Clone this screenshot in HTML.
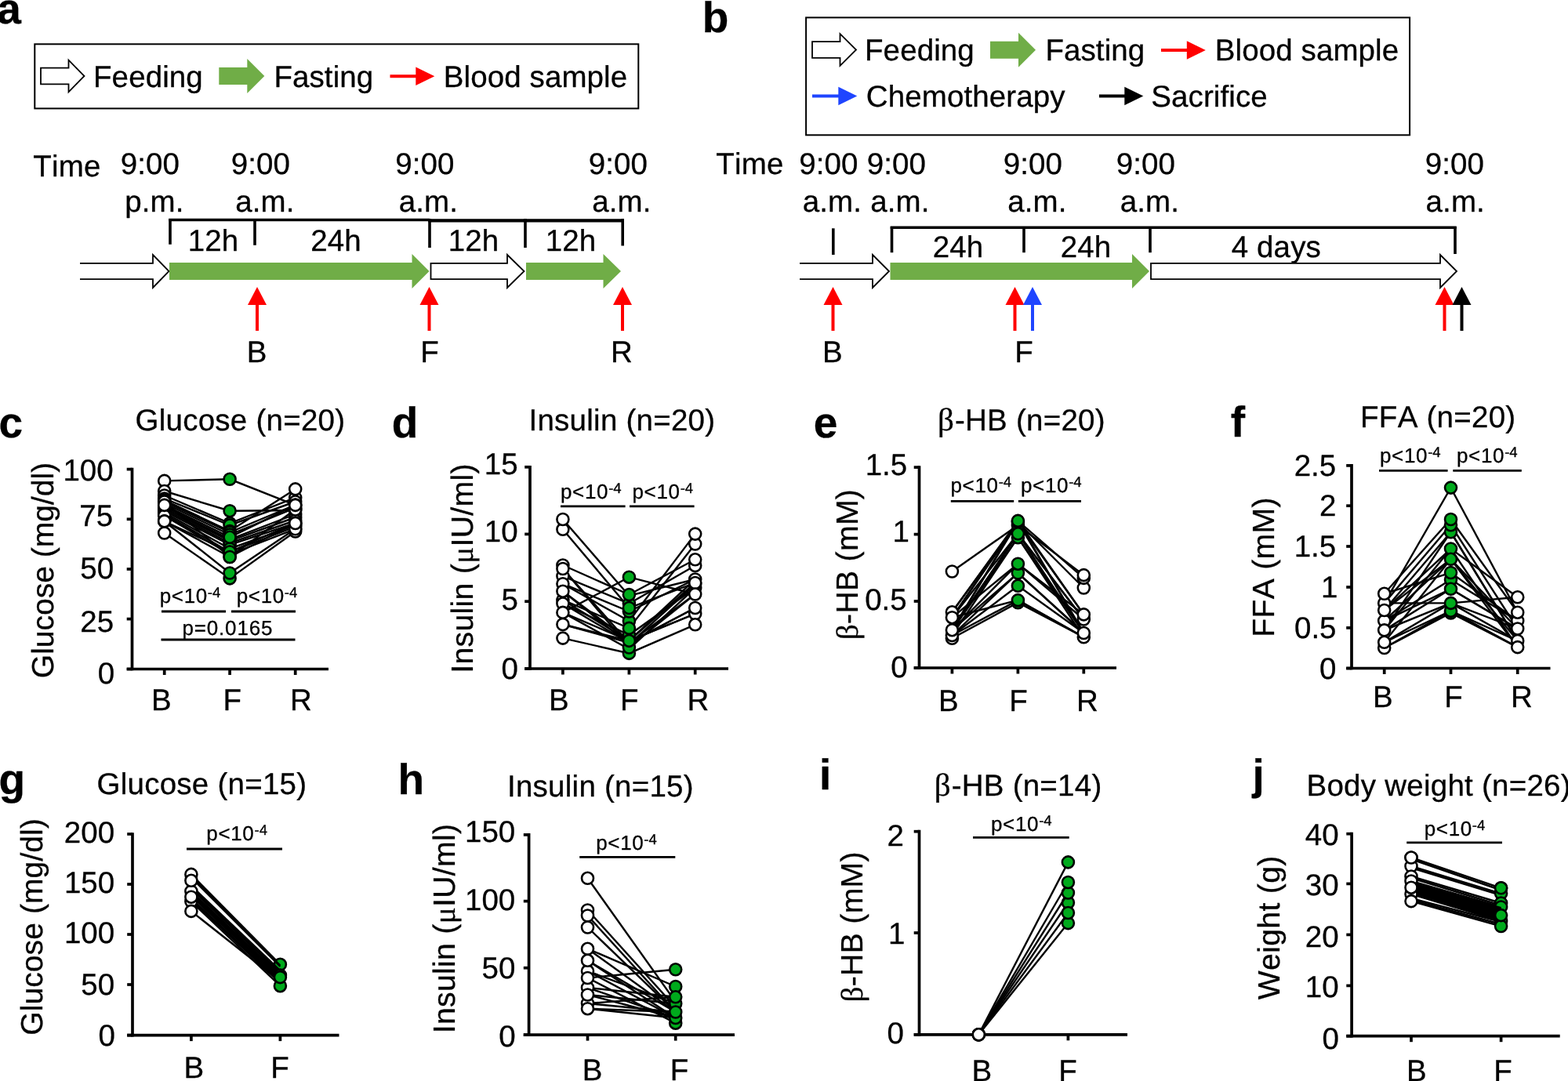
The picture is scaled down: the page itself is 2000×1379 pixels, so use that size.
<!DOCTYPE html>
<html lang="en">
<head>
<meta charset="utf-8">
<title>Figure</title>
<style>
html,body{margin:0;padding:0;background:#fff;}
body{width:2000px;height:1379px;overflow:hidden;}
svg{display:block;}
svg text{font-family:"Liberation Sans",Arial,Helvetica,sans-serif;fill:#000;stroke:#000;stroke-width:0.3px;stroke-linejoin:round;font-kerning:none;text-rendering:geometricPrecision;}
</style>
</head>
<body>
<svg width="2000" height="1379" viewBox="0 0 2000 1379">
<rect x="0" y="0" width="2000" height="1379" fill="#fff"/>
<text x="-3.80" y="29.50" font-size="55" font-weight="700">a</text>
<text x="895.80" y="41.00" font-size="55" font-weight="700">b</text>
<text x="-1.50" y="558.00" font-size="55" font-weight="700">c</text>
<text x="499.70" y="558.00" font-size="55" font-weight="700">d</text>
<text x="1037.70" y="558.00" font-size="55" font-weight="700">e</text>
<text x="1569.70" y="557.00" font-size="55" font-weight="700">f</text>
<text x="-1.50" y="1012.50" font-size="55" font-weight="700">g</text>
<text x="507.40" y="1013.30" font-size="55" font-weight="700">h</text>
<text x="1044.90" y="1007.00" font-size="55" font-weight="700">i</text>
<text x="1597.50" y="1007.00" font-size="55" font-weight="700">j</text>
<rect x="44.3" y="56.3" width="770" height="82.1" fill="none" stroke="#000" stroke-width="2.0"/>
<polygon points="52.00,86.70 87.50,86.70 87.50,76.70 107.50,97.00 87.50,117.30 87.50,107.30 52.00,107.30" fill="#fff" stroke="#000" stroke-width="1.8" stroke-linejoin="miter"/>
<text x="119.00" y="111.00" font-size="38.5" letter-spacing="0.1">Feeding</text>
<polygon points="279.30,86.00 315.30,86.00 315.30,75.00 337.30,97.00 315.30,119.00 315.30,108.00 279.30,108.00" fill="#70AD47" stroke="none" stroke-width="0" stroke-linejoin="miter"/>
<text x="349.40" y="111.00" font-size="38.5" letter-spacing="0.1">Fasting</text>
<line x1="497.50" y1="97.30" x2="531.30" y2="97.30" stroke="#FF0000" stroke-width="4.0" stroke-linecap="butt"/>
<polygon points="530.30,85.50 554.30,97.30 530.30,109.10" fill="#FF0000" stroke="none" stroke-width="0" stroke-linejoin="miter"/>
<text x="565.80" y="111.00" font-size="38.5" letter-spacing="0.1">Blood sample</text>
<rect x="1028.1" y="22.4" width="770" height="149.9" fill="none" stroke="#000" stroke-width="2.0"/>
<polygon points="1036.00,53.20 1071.50,53.20 1071.50,43.20 1092.00,63.50 1071.50,83.80 1071.50,73.80 1036.00,73.80" fill="#fff" stroke="#000" stroke-width="1.8" stroke-linejoin="miter"/>
<text x="1103.00" y="77.30" font-size="38.5" letter-spacing="0.1">Feeding</text>
<polygon points="1263.00,52.70 1299.00,52.70 1299.00,41.70 1321.00,63.70 1299.00,85.70 1299.00,74.70 1263.00,74.70" fill="#70AD47" stroke="none" stroke-width="0" stroke-linejoin="miter"/>
<text x="1333.40" y="77.30" font-size="38.5" letter-spacing="0.1">Fasting</text>
<line x1="1481.00" y1="64.00" x2="1514.80" y2="64.00" stroke="#FF0000" stroke-width="4.0" stroke-linecap="butt"/>
<polygon points="1513.80,52.20 1537.80,64.00 1513.80,75.80" fill="#FF0000" stroke="none" stroke-width="0" stroke-linejoin="miter"/>
<text x="1549.80" y="77.30" font-size="38.5" letter-spacing="0.1">Blood sample</text>
<line x1="1036.00" y1="122.50" x2="1070.30" y2="122.50" stroke="#1F45FF" stroke-width="4.0" stroke-linecap="butt"/>
<polygon points="1069.30,110.70 1093.30,122.50 1069.30,134.30" fill="#1F45FF" stroke="none" stroke-width="0" stroke-linejoin="miter"/>
<text x="1104.80" y="135.80" font-size="38.5" letter-spacing="0.1">Chemotherapy</text>
<line x1="1402.00" y1="122.50" x2="1435.30" y2="122.50" stroke="#000" stroke-width="4.0" stroke-linecap="butt"/>
<polygon points="1434.30,110.70 1458.30,122.50 1434.30,134.30" fill="#000" stroke="none" stroke-width="0" stroke-linejoin="miter"/>
<text x="1468.30" y="135.80" font-size="38.5" letter-spacing="0.1">Sacrifice</text>
<text x="42.30" y="225.40" font-size="38.5" letter-spacing="0.2">Time</text>
<text x="153.70" y="222.00" font-size="38.5" letter-spacing="0.1">9:00</text>
<text x="159.30" y="270.00" font-size="38.5" letter-spacing="0.1">p.m.</text>
<text x="294.70" y="222.00" font-size="38.5" letter-spacing="0.1">9:00</text>
<text x="300.30" y="270.00" font-size="38.5" letter-spacing="0.1">a.m.</text>
<text x="504.20" y="222.00" font-size="38.5" letter-spacing="0.1">9:00</text>
<text x="508.80" y="270.00" font-size="38.5" letter-spacing="0.1">a.m.</text>
<text x="750.70" y="222.00" font-size="38.5" letter-spacing="0.1">9:00</text>
<text x="755.30" y="270.00" font-size="38.5" letter-spacing="0.1">a.m.</text>
<line x1="215.30" y1="280.50" x2="548.00" y2="280.50" stroke="#000" stroke-width="3.6" stroke-linecap="butt"/>
<line x1="546.20" y1="281.30" x2="796.00" y2="281.30" stroke="#000" stroke-width="4.3" stroke-linecap="butt"/>
<line x1="217.00" y1="279.00" x2="217.00" y2="311.80" stroke="#000" stroke-width="3.6" stroke-linecap="butt"/>
<line x1="325.00" y1="279.00" x2="325.00" y2="312.80" stroke="#000" stroke-width="3.6" stroke-linecap="butt"/>
<line x1="548.00" y1="279.00" x2="548.00" y2="316.00" stroke="#000" stroke-width="3.6" stroke-linecap="butt"/>
<line x1="670.00" y1="279.00" x2="670.00" y2="316.00" stroke="#000" stroke-width="3.6" stroke-linecap="butt"/>
<line x1="794.20" y1="279.00" x2="794.20" y2="313.50" stroke="#000" stroke-width="3.6" stroke-linecap="butt"/>
<text x="239.80" y="320.00" font-size="38.5" letter-spacing="0.1">12h</text>
<text x="396.30" y="320.00" font-size="38.5" letter-spacing="0.1">24h</text>
<text x="571.80" y="320.00" font-size="38.5" letter-spacing="0.1">12h</text>
<text x="695.80" y="320.00" font-size="38.5" letter-spacing="0.1">12h</text>
<polyline points="102.00,335.80 195.00,335.80 195.00,325.00 215.50,346.00 195.00,367.00 195.00,356.20 102.00,356.20" fill="#fff" stroke="#000" stroke-width="1.8" stroke-linejoin="miter"/>
<polygon points="216.00,335.00 525.50,335.00 525.50,324.00 547.50,346.00 525.50,368.00 525.50,357.00 216.00,357.00" fill="#70AD47" stroke="none" stroke-width="0" stroke-linejoin="miter"/>
<polygon points="549.50,335.80 647.00,335.80 647.00,325.00 668.50,346.00 647.00,367.00 647.00,356.20 549.50,356.20" fill="#fff" stroke="#000" stroke-width="1.8" stroke-linejoin="miter"/>
<polygon points="671.00,335.00 769.50,335.00 769.50,324.00 792.00,346.00 769.50,368.00 769.50,357.00 671.00,357.00" fill="#70AD47" stroke="none" stroke-width="0" stroke-linejoin="miter"/>
<line x1="328.00" y1="388.00" x2="328.00" y2="422.00" stroke="#FF0000" stroke-width="4.0" stroke-linecap="butt"/>
<polygon points="316.00,389.00 328.00,366.00 340.00,389.00" fill="#FF0000" stroke="none" stroke-width="0" stroke-linejoin="miter"/>
<line x1="547.50" y1="388.00" x2="547.50" y2="422.00" stroke="#FF0000" stroke-width="4.0" stroke-linecap="butt"/>
<polygon points="535.50,389.00 547.50,366.00 559.50,389.00" fill="#FF0000" stroke="none" stroke-width="0" stroke-linejoin="miter"/>
<line x1="794.00" y1="388.00" x2="794.00" y2="422.00" stroke="#FF0000" stroke-width="4.0" stroke-linecap="butt"/>
<polygon points="782.00,389.00 794.00,366.00 806.00,389.00" fill="#FF0000" stroke="none" stroke-width="0" stroke-linejoin="miter"/>
<text x="314.82" y="461.50" font-size="38.5">B</text>
<text x="536.25" y="461.50" font-size="38.5">F</text>
<text x="779.12" y="461.50" font-size="38.5">R</text>
<text x="913.30" y="222.00" font-size="38.5" letter-spacing="0.2">Time</text>
<text x="1019.20" y="222.00" font-size="38.5" letter-spacing="0.1">9:00</text>
<text x="1023.80" y="270.00" font-size="38.5" letter-spacing="0.1">a.m.</text>
<text x="1105.70" y="222.00" font-size="38.5" letter-spacing="0.1">9:00</text>
<text x="1110.30" y="270.00" font-size="38.5" letter-spacing="0.1">a.m.</text>
<text x="1279.70" y="222.00" font-size="38.5" letter-spacing="0.1">9:00</text>
<text x="1285.30" y="270.00" font-size="38.5" letter-spacing="0.1">a.m.</text>
<text x="1423.70" y="222.00" font-size="38.5" letter-spacing="0.1">9:00</text>
<text x="1428.80" y="270.00" font-size="38.5" letter-spacing="0.1">a.m.</text>
<text x="1817.70" y="222.00" font-size="38.5" letter-spacing="0.1">9:00</text>
<text x="1818.60" y="270.00" font-size="38.5" letter-spacing="0.1">a.m.</text>
<line x1="1062.80" y1="291.30" x2="1062.80" y2="325.00" stroke="#000" stroke-width="3.6" stroke-linecap="butt"/>
<line x1="1135.70" y1="290.30" x2="1857.70" y2="290.30" stroke="#000" stroke-width="3.6" stroke-linecap="butt"/>
<line x1="1137.50" y1="289.00" x2="1137.50" y2="322.20" stroke="#000" stroke-width="3.6" stroke-linecap="butt"/>
<line x1="1306.00" y1="289.00" x2="1306.00" y2="322.20" stroke="#000" stroke-width="3.6" stroke-linecap="butt"/>
<line x1="1467.00" y1="289.00" x2="1467.00" y2="322.20" stroke="#000" stroke-width="3.6" stroke-linecap="butt"/>
<line x1="1856.00" y1="289.00" x2="1856.00" y2="324.00" stroke="#000" stroke-width="3.6" stroke-linecap="butt"/>
<text x="1189.80" y="327.50" font-size="38.5" letter-spacing="0.1">24h</text>
<text x="1352.80" y="327.50" font-size="38.5" letter-spacing="0.1">24h</text>
<text x="1570.80" y="327.50" font-size="38.5" letter-spacing="0.1">4 days</text>
<polyline points="1020.00,335.80 1113.00,335.80 1113.00,325.00 1134.00,346.00 1113.00,367.00 1113.00,356.20 1020.00,356.20" fill="#fff" stroke="#000" stroke-width="1.8" stroke-linejoin="miter"/>
<polygon points="1135.50,335.00 1444.00,335.00 1444.00,324.00 1466.00,346.00 1444.00,368.00 1444.00,357.00 1135.50,357.00" fill="#70AD47" stroke="none" stroke-width="0" stroke-linejoin="miter"/>
<polygon points="1468.00,335.80 1837.00,335.80 1837.00,325.00 1858.00,346.00 1837.00,367.00 1837.00,356.20 1468.00,356.20" fill="#fff" stroke="#000" stroke-width="1.8" stroke-linejoin="miter"/>
<line x1="1062.50" y1="388.00" x2="1062.50" y2="422.00" stroke="#FF0000" stroke-width="4.0" stroke-linecap="butt"/>
<polygon points="1050.50,389.00 1062.50,366.00 1074.50,389.00" fill="#FF0000" stroke="none" stroke-width="0" stroke-linejoin="miter"/>
<line x1="1294.50" y1="388.00" x2="1294.50" y2="422.00" stroke="#FF0000" stroke-width="4.0" stroke-linecap="butt"/>
<polygon points="1282.50,389.00 1294.50,366.00 1306.50,389.00" fill="#FF0000" stroke="none" stroke-width="0" stroke-linejoin="miter"/>
<line x1="1317.00" y1="388.00" x2="1317.00" y2="422.00" stroke="#1F45FF" stroke-width="4.0" stroke-linecap="butt"/>
<polygon points="1305.00,389.00 1317.00,366.00 1329.00,389.00" fill="#1F45FF" stroke="none" stroke-width="0" stroke-linejoin="miter"/>
<line x1="1842.50" y1="388.00" x2="1842.50" y2="422.00" stroke="#FF0000" stroke-width="4.0" stroke-linecap="butt"/>
<polygon points="1830.50,389.00 1842.50,366.00 1854.50,389.00" fill="#FF0000" stroke="none" stroke-width="0" stroke-linejoin="miter"/>
<line x1="1864.50" y1="388.00" x2="1864.50" y2="422.00" stroke="#000" stroke-width="4.0" stroke-linecap="butt"/>
<polygon points="1852.50,389.00 1864.50,366.00 1876.50,389.00" fill="#000" stroke="none" stroke-width="0" stroke-linejoin="miter"/>
<text x="1049.12" y="461.50" font-size="38.5">B</text>
<text x="1294.25" y="461.50" font-size="38.5">F</text>
<text x="172.50" y="548.90" font-size="38.5" letter-spacing="0.25">Glucose (n=20)</text>
<text transform="translate(68.00,727.50) rotate(-90)" text-anchor="middle" font-size="39" letter-spacing="0">Glucose (mg/dl)</text>
<line x1="168.50" y1="596.75" x2="168.50" y2="855.35" stroke="#000" stroke-width="3.7" stroke-linecap="butt"/>
<line x1="161.70" y1="853.50" x2="419.00" y2="853.50" stroke="#000" stroke-width="3.7" stroke-linecap="butt"/>
<line x1="161.70" y1="598.60" x2="168.50" y2="598.60" stroke="#000" stroke-width="3.7" stroke-linecap="butt"/>
<text x="80.45" y="612.60" font-size="38.5">100</text>
<line x1="161.70" y1="662.30" x2="168.50" y2="662.30" stroke="#000" stroke-width="3.7" stroke-linecap="butt"/>
<text x="101.35" y="671.30" font-size="38.5">75</text>
<line x1="161.70" y1="726.00" x2="168.50" y2="726.00" stroke="#000" stroke-width="3.7" stroke-linecap="butt"/>
<text x="102.35" y="738.40" font-size="38.5">50</text>
<line x1="161.70" y1="789.60" x2="168.50" y2="789.60" stroke="#000" stroke-width="3.7" stroke-linecap="butt"/>
<text x="102.35" y="805.60" font-size="38.5">25</text>
<line x1="161.70" y1="853.50" x2="168.50" y2="853.50" stroke="#000" stroke-width="3.7" stroke-linecap="butt"/>
<text x="124.80" y="872.00" font-size="38.5">0</text>
<line x1="209.70" y1="853.50" x2="209.70" y2="861.00" stroke="#000" stroke-width="3.7" stroke-linecap="butt"/>
<line x1="293.10" y1="853.50" x2="293.10" y2="861.00" stroke="#000" stroke-width="3.7" stroke-linecap="butt"/>
<line x1="376.70" y1="853.50" x2="376.70" y2="861.00" stroke="#000" stroke-width="3.7" stroke-linecap="butt"/>
<text x="193.12" y="905.80" font-size="38.5">B</text>
<text x="284.55" y="905.80" font-size="38.5">F</text>
<text x="370.12" y="905.80" font-size="38.5">R</text>
<polyline points="209.7,613.4 293.1,611.3 376.7,644.4" fill="none" stroke="#000" stroke-width="2.4"/>
<circle cx="209.7" cy="613.4" r="7.5" fill="#fff" stroke="#000" stroke-width="2.6"/>
<circle cx="293.1" cy="611.3" r="7.5" fill="#00AA1C" stroke="#000" stroke-width="2.6"/>
<circle cx="376.7" cy="644.4" r="7.5" fill="#fff" stroke="#000" stroke-width="2.6"/>
<polyline points="209.7,626.5 293.1,651.7 376.7,651.0" fill="none" stroke="#000" stroke-width="2.4"/>
<circle cx="209.7" cy="626.5" r="7.5" fill="#fff" stroke="#000" stroke-width="2.6"/>
<circle cx="293.1" cy="651.7" r="7.5" fill="#00AA1C" stroke="#000" stroke-width="2.6"/>
<circle cx="376.7" cy="651.0" r="7.5" fill="#fff" stroke="#000" stroke-width="2.6"/>
<polyline points="209.7,632.0 293.1,667.5 376.7,634.9" fill="none" stroke="#000" stroke-width="2.4"/>
<circle cx="209.7" cy="632.0" r="7.5" fill="#fff" stroke="#000" stroke-width="2.6"/>
<circle cx="293.1" cy="667.5" r="7.5" fill="#00AA1C" stroke="#000" stroke-width="2.6"/>
<circle cx="376.7" cy="634.9" r="7.5" fill="#fff" stroke="#000" stroke-width="2.6"/>
<polyline points="209.7,636.0 293.1,670.0 376.7,640.0" fill="none" stroke="#000" stroke-width="2.4"/>
<circle cx="209.7" cy="636.0" r="7.5" fill="#fff" stroke="#000" stroke-width="2.6"/>
<circle cx="293.1" cy="670.0" r="7.5" fill="#00AA1C" stroke="#000" stroke-width="2.6"/>
<circle cx="376.7" cy="640.0" r="7.5" fill="#fff" stroke="#000" stroke-width="2.6"/>
<polyline points="209.7,638.0 293.1,677.5 376.7,623.9" fill="none" stroke="#000" stroke-width="2.4"/>
<circle cx="209.7" cy="638.0" r="7.5" fill="#fff" stroke="#000" stroke-width="2.6"/>
<circle cx="293.1" cy="677.5" r="7.5" fill="#00AA1C" stroke="#000" stroke-width="2.6"/>
<circle cx="376.7" cy="623.9" r="7.5" fill="#fff" stroke="#000" stroke-width="2.6"/>
<polyline points="209.7,640.0 293.1,679.0 376.7,644.0" fill="none" stroke="#000" stroke-width="2.4"/>
<circle cx="209.7" cy="640.0" r="7.5" fill="#fff" stroke="#000" stroke-width="2.6"/>
<circle cx="293.1" cy="679.0" r="7.5" fill="#00AA1C" stroke="#000" stroke-width="2.6"/>
<circle cx="376.7" cy="644.0" r="7.5" fill="#fff" stroke="#000" stroke-width="2.6"/>
<polyline points="209.7,642.0 293.1,682.0 376.7,648.0" fill="none" stroke="#000" stroke-width="2.4"/>
<circle cx="209.7" cy="642.0" r="7.5" fill="#fff" stroke="#000" stroke-width="2.6"/>
<circle cx="293.1" cy="682.0" r="7.5" fill="#00AA1C" stroke="#000" stroke-width="2.6"/>
<circle cx="376.7" cy="648.0" r="7.5" fill="#fff" stroke="#000" stroke-width="2.6"/>
<polyline points="209.7,646.0 293.1,688.0 376.7,656.0" fill="none" stroke="#000" stroke-width="2.4"/>
<circle cx="209.7" cy="646.0" r="7.5" fill="#fff" stroke="#000" stroke-width="2.6"/>
<circle cx="293.1" cy="688.0" r="7.5" fill="#00AA1C" stroke="#000" stroke-width="2.6"/>
<circle cx="376.7" cy="656.0" r="7.5" fill="#fff" stroke="#000" stroke-width="2.6"/>
<polyline points="209.7,648.0 293.1,690.0 376.7,660.0" fill="none" stroke="#000" stroke-width="2.4"/>
<circle cx="209.7" cy="648.0" r="7.5" fill="#fff" stroke="#000" stroke-width="2.6"/>
<circle cx="293.1" cy="690.0" r="7.5" fill="#00AA1C" stroke="#000" stroke-width="2.6"/>
<circle cx="376.7" cy="660.0" r="7.5" fill="#fff" stroke="#000" stroke-width="2.6"/>
<polyline points="209.7,650.0 293.1,692.7 376.7,664.0" fill="none" stroke="#000" stroke-width="2.4"/>
<circle cx="209.7" cy="650.0" r="7.5" fill="#fff" stroke="#000" stroke-width="2.6"/>
<circle cx="293.1" cy="692.7" r="7.5" fill="#00AA1C" stroke="#000" stroke-width="2.6"/>
<circle cx="376.7" cy="664.0" r="7.5" fill="#fff" stroke="#000" stroke-width="2.6"/>
<polyline points="209.7,652.0 293.1,695.0 376.7,667.5" fill="none" stroke="#000" stroke-width="2.4"/>
<circle cx="209.7" cy="652.0" r="7.5" fill="#fff" stroke="#000" stroke-width="2.6"/>
<circle cx="293.1" cy="695.0" r="7.5" fill="#00AA1C" stroke="#000" stroke-width="2.6"/>
<circle cx="376.7" cy="667.5" r="7.5" fill="#fff" stroke="#000" stroke-width="2.6"/>
<polyline points="209.7,654.0 293.1,700.0 376.7,670.0" fill="none" stroke="#000" stroke-width="2.4"/>
<circle cx="209.7" cy="654.0" r="7.5" fill="#fff" stroke="#000" stroke-width="2.6"/>
<circle cx="293.1" cy="700.0" r="7.5" fill="#00AA1C" stroke="#000" stroke-width="2.6"/>
<circle cx="376.7" cy="670.0" r="7.5" fill="#fff" stroke="#000" stroke-width="2.6"/>
<polyline points="209.7,656.0 293.1,704.2 376.7,672.0" fill="none" stroke="#000" stroke-width="2.4"/>
<circle cx="209.7" cy="656.0" r="7.5" fill="#fff" stroke="#000" stroke-width="2.6"/>
<circle cx="293.1" cy="704.2" r="7.5" fill="#00AA1C" stroke="#000" stroke-width="2.6"/>
<circle cx="376.7" cy="672.0" r="7.5" fill="#fff" stroke="#000" stroke-width="2.6"/>
<polyline points="209.7,658.0 293.1,707.0 376.7,674.8" fill="none" stroke="#000" stroke-width="2.4"/>
<circle cx="209.7" cy="658.0" r="7.5" fill="#fff" stroke="#000" stroke-width="2.6"/>
<circle cx="293.1" cy="707.0" r="7.5" fill="#00AA1C" stroke="#000" stroke-width="2.6"/>
<circle cx="376.7" cy="674.8" r="7.5" fill="#fff" stroke="#000" stroke-width="2.6"/>
<polyline points="209.7,640.0 293.1,710.5 376.7,650.0" fill="none" stroke="#000" stroke-width="2.4"/>
<circle cx="209.7" cy="640.0" r="7.5" fill="#fff" stroke="#000" stroke-width="2.6"/>
<circle cx="293.1" cy="710.5" r="7.5" fill="#00AA1C" stroke="#000" stroke-width="2.6"/>
<circle cx="376.7" cy="650.0" r="7.5" fill="#fff" stroke="#000" stroke-width="2.6"/>
<polyline points="209.7,665.0 293.1,704.0 376.7,667.0" fill="none" stroke="#000" stroke-width="2.4"/>
<circle cx="209.7" cy="665.0" r="7.5" fill="#fff" stroke="#000" stroke-width="2.6"/>
<circle cx="293.1" cy="704.0" r="7.5" fill="#00AA1C" stroke="#000" stroke-width="2.6"/>
<circle cx="376.7" cy="667.0" r="7.5" fill="#fff" stroke="#000" stroke-width="2.6"/>
<polyline points="209.7,680.0 293.1,737.9 376.7,678.0" fill="none" stroke="#000" stroke-width="2.4"/>
<circle cx="209.7" cy="680.0" r="7.5" fill="#fff" stroke="#000" stroke-width="2.6"/>
<circle cx="293.1" cy="737.9" r="7.5" fill="#00AA1C" stroke="#000" stroke-width="2.6"/>
<circle cx="376.7" cy="678.0" r="7.5" fill="#fff" stroke="#000" stroke-width="2.6"/>
<polyline points="209.7,665.0 293.1,731.0 376.7,674.8" fill="none" stroke="#000" stroke-width="2.4"/>
<circle cx="209.7" cy="665.0" r="7.5" fill="#fff" stroke="#000" stroke-width="2.6"/>
<circle cx="293.1" cy="731.0" r="7.5" fill="#00AA1C" stroke="#000" stroke-width="2.6"/>
<circle cx="376.7" cy="674.8" r="7.5" fill="#fff" stroke="#000" stroke-width="2.6"/>
<polyline points="209.7,664.9 293.1,710.5 376.7,667.5" fill="none" stroke="#000" stroke-width="2.4"/>
<circle cx="209.7" cy="664.9" r="7.5" fill="#fff" stroke="#000" stroke-width="2.6"/>
<circle cx="293.1" cy="710.5" r="7.5" fill="#00AA1C" stroke="#000" stroke-width="2.6"/>
<circle cx="376.7" cy="667.5" r="7.5" fill="#fff" stroke="#000" stroke-width="2.6"/>
<polyline points="209.7,644.4 293.1,685.3 376.7,644.4" fill="none" stroke="#000" stroke-width="2.4"/>
<circle cx="209.7" cy="644.4" r="7.5" fill="#fff" stroke="#000" stroke-width="2.6"/>
<circle cx="293.1" cy="685.3" r="7.5" fill="#00AA1C" stroke="#000" stroke-width="2.6"/>
<circle cx="376.7" cy="644.4" r="7.5" fill="#fff" stroke="#000" stroke-width="2.6"/>
<text x="203.70" y="769.00" font-size="26" letter-spacing="0.65">p&lt;10<tspan font-size="18.6" dy="-6.9" letter-spacing="0">-4</tspan></text>
<text x="301.70" y="769.00" font-size="26" letter-spacing="0.65">p&lt;10<tspan font-size="18.6" dy="-6.9" letter-spacing="0">-4</tspan></text>
<text x="232.40" y="809.50" font-size="26" letter-spacing="0.85">p=0.0165</text>
<line x1="206.00" y1="780.00" x2="288.00" y2="780.00" stroke="#000" stroke-width="2.8" stroke-linecap="butt"/>
<line x1="295.00" y1="780.00" x2="377.00" y2="780.00" stroke="#000" stroke-width="2.8" stroke-linecap="butt"/>
<line x1="205.50" y1="816.00" x2="376.50" y2="816.00" stroke="#000" stroke-width="2.8" stroke-linecap="butt"/>
<text x="674.50" y="548.90" font-size="38.5" letter-spacing="0.25">Insulin (n=20)</text>
<text transform="translate(603.00,725.00) rotate(-90)" text-anchor="middle" font-size="39.2" letter-spacing="0.3">Insulin (<tspan font-family="'Liberation Serif',serif">μ</tspan>IU/ml)</text>
<line x1="676.00" y1="593.95" x2="676.00" y2="854.85" stroke="#000" stroke-width="3.7" stroke-linecap="butt"/>
<line x1="669.20" y1="853.00" x2="929.00" y2="853.00" stroke="#000" stroke-width="3.7" stroke-linecap="butt"/>
<line x1="669.20" y1="595.80" x2="676.00" y2="595.80" stroke="#000" stroke-width="3.7" stroke-linecap="butt"/>
<text x="617.85" y="604.60" font-size="38.5">15</text>
<line x1="669.20" y1="681.40" x2="676.00" y2="681.40" stroke="#000" stroke-width="3.7" stroke-linecap="butt"/>
<text x="617.85" y="691.00" font-size="38.5">10</text>
<line x1="669.20" y1="767.20" x2="676.00" y2="767.20" stroke="#000" stroke-width="3.7" stroke-linecap="butt"/>
<text x="639.40" y="778.40" font-size="38.5">5</text>
<line x1="669.20" y1="853.00" x2="676.00" y2="853.00" stroke="#000" stroke-width="3.7" stroke-linecap="butt"/>
<text x="639.40" y="865.80" font-size="38.5">0</text>
<line x1="717.90" y1="853.00" x2="717.90" y2="860.50" stroke="#000" stroke-width="3.7" stroke-linecap="butt"/>
<line x1="802.40" y1="853.00" x2="802.40" y2="860.50" stroke="#000" stroke-width="3.7" stroke-linecap="butt"/>
<line x1="886.70" y1="853.00" x2="886.70" y2="860.50" stroke="#000" stroke-width="3.7" stroke-linecap="butt"/>
<text x="699.92" y="905.80" font-size="38.5">B</text>
<text x="790.95" y="905.80" font-size="38.5">F</text>
<text x="876.62" y="905.80" font-size="38.5">R</text>
<polyline points="717.9,721.0 802.4,758.5 886.7,713.8" fill="none" stroke="#000" stroke-width="2.4"/>
<polyline points="717.9,735.0 802.4,770.0 886.7,721.5" fill="none" stroke="#000" stroke-width="2.4"/>
<polyline points="717.9,744.7 802.4,780.0 886.7,739.0" fill="none" stroke="#000" stroke-width="2.4"/>
<polyline points="717.9,744.7 802.4,792.3 886.7,681.1" fill="none" stroke="#000" stroke-width="2.4"/>
<polyline points="717.9,765.4 802.4,801.4 886.7,694.0" fill="none" stroke="#000" stroke-width="2.4"/>
<polyline points="717.9,765.4 802.4,817.4 886.7,743.5" fill="none" stroke="#000" stroke-width="2.4"/>
<polyline points="717.9,770.0 802.4,810.0 886.7,750.0" fill="none" stroke="#000" stroke-width="2.4"/>
<polyline points="717.9,770.0 802.4,820.0 886.7,758.0" fill="none" stroke="#000" stroke-width="2.4"/>
<polyline points="717.9,754.2 802.4,817.4 886.7,739.0" fill="none" stroke="#000" stroke-width="2.4"/>
<polyline points="717.9,754.2 802.4,822.0 886.7,745.0" fill="none" stroke="#000" stroke-width="2.4"/>
<polyline points="717.9,725.5 802.4,825.0 886.7,758.0" fill="none" stroke="#000" stroke-width="2.4"/>
<polyline points="717.9,725.5 802.4,820.0 886.7,775.5" fill="none" stroke="#000" stroke-width="2.4"/>
<polyline points="717.9,781.4 802.4,817.4 886.7,783.0" fill="none" stroke="#000" stroke-width="2.4"/>
<polyline points="717.9,781.4 802.4,828.0 886.7,750.0" fill="none" stroke="#000" stroke-width="2.4"/>
<polyline points="717.9,781.4 802.4,736.2 886.7,758.0" fill="none" stroke="#000" stroke-width="2.4"/>
<polyline points="717.9,796.5 802.4,820.0 886.7,775.5" fill="none" stroke="#000" stroke-width="2.4"/>
<polyline points="717.9,796.5 802.4,817.4 886.7,783.0" fill="none" stroke="#000" stroke-width="2.4"/>
<polyline points="717.9,814.1 802.4,833.4 886.7,796.8" fill="none" stroke="#000" stroke-width="2.4"/>
<polyline points="717.9,675.3 802.4,775.5 886.7,743.5" fill="none" stroke="#000" stroke-width="2.4"/>
<polyline points="717.9,662.5 802.4,760.0 886.7,739.0" fill="none" stroke="#000" stroke-width="2.4"/>
<circle cx="717.9" cy="721.0" r="7.5" fill="#fff" stroke="#000" stroke-width="2.6"/>
<circle cx="717.9" cy="735.0" r="7.5" fill="#fff" stroke="#000" stroke-width="2.6"/>
<circle cx="717.9" cy="744.7" r="7.5" fill="#fff" stroke="#000" stroke-width="2.6"/>
<circle cx="717.9" cy="765.4" r="7.5" fill="#fff" stroke="#000" stroke-width="2.6"/>
<circle cx="717.9" cy="770.0" r="7.5" fill="#fff" stroke="#000" stroke-width="2.6"/>
<circle cx="717.9" cy="754.2" r="7.5" fill="#fff" stroke="#000" stroke-width="2.6"/>
<circle cx="717.9" cy="725.5" r="7.5" fill="#fff" stroke="#000" stroke-width="2.6"/>
<circle cx="717.9" cy="781.4" r="7.5" fill="#fff" stroke="#000" stroke-width="2.6"/>
<circle cx="717.9" cy="796.5" r="7.5" fill="#fff" stroke="#000" stroke-width="2.6"/>
<circle cx="717.9" cy="814.1" r="7.5" fill="#fff" stroke="#000" stroke-width="2.6"/>
<circle cx="717.9" cy="675.3" r="7.5" fill="#fff" stroke="#000" stroke-width="2.6"/>
<circle cx="717.9" cy="662.5" r="7.5" fill="#fff" stroke="#000" stroke-width="2.6"/>
<circle cx="802.4" cy="833.4" r="7.5" fill="#00AA1C" stroke="#000" stroke-width="2.6"/>
<circle cx="802.4" cy="826.0" r="7.5" fill="#00AA1C" stroke="#000" stroke-width="2.6"/>
<circle cx="802.4" cy="810.0" r="7.5" fill="#00AA1C" stroke="#000" stroke-width="2.6"/>
<circle cx="802.4" cy="792.3" r="7.5" fill="#00AA1C" stroke="#000" stroke-width="2.6"/>
<circle cx="802.4" cy="780.0" r="7.5" fill="#00AA1C" stroke="#000" stroke-width="2.6"/>
<circle cx="802.4" cy="770.0" r="7.5" fill="#00AA1C" stroke="#000" stroke-width="2.6"/>
<circle cx="802.4" cy="817.4" r="7.5" fill="#00AA1C" stroke="#000" stroke-width="2.6"/>
<circle cx="802.4" cy="801.4" r="7.5" fill="#00AA1C" stroke="#000" stroke-width="2.6"/>
<circle cx="802.4" cy="775.5" r="7.5" fill="#00AA1C" stroke="#000" stroke-width="2.6"/>
<circle cx="802.4" cy="758.5" r="7.5" fill="#00AA1C" stroke="#000" stroke-width="2.6"/>
<circle cx="802.4" cy="736.2" r="7.5" fill="#00AA1C" stroke="#000" stroke-width="2.6"/>
<circle cx="886.7" cy="694.0" r="7.5" fill="#fff" stroke="#000" stroke-width="2.6"/>
<circle cx="886.7" cy="721.5" r="7.5" fill="#fff" stroke="#000" stroke-width="2.6"/>
<circle cx="886.7" cy="739.0" r="7.5" fill="#fff" stroke="#000" stroke-width="2.6"/>
<circle cx="886.7" cy="750.0" r="7.5" fill="#fff" stroke="#000" stroke-width="2.6"/>
<circle cx="886.7" cy="745.0" r="7.5" fill="#fff" stroke="#000" stroke-width="2.6"/>
<circle cx="886.7" cy="783.0" r="7.5" fill="#fff" stroke="#000" stroke-width="2.6"/>
<circle cx="886.7" cy="681.1" r="7.5" fill="#fff" stroke="#000" stroke-width="2.6"/>
<circle cx="886.7" cy="713.8" r="7.5" fill="#fff" stroke="#000" stroke-width="2.6"/>
<circle cx="886.7" cy="743.5" r="7.5" fill="#fff" stroke="#000" stroke-width="2.6"/>
<circle cx="886.7" cy="758.0" r="7.5" fill="#fff" stroke="#000" stroke-width="2.6"/>
<circle cx="886.7" cy="775.5" r="7.5" fill="#fff" stroke="#000" stroke-width="2.6"/>
<circle cx="886.7" cy="796.8" r="7.5" fill="#fff" stroke="#000" stroke-width="2.6"/>
<text x="715.00" y="636.10" font-size="26" letter-spacing="0.65">p&lt;10<tspan font-size="18.6" dy="-6.9" letter-spacing="0">-4</tspan></text>
<text x="806.50" y="636.10" font-size="26" letter-spacing="0.65">p&lt;10<tspan font-size="18.6" dy="-6.9" letter-spacing="0">-4</tspan></text>
<line x1="715.00" y1="645.80" x2="797.60" y2="645.80" stroke="#000" stroke-width="2.8" stroke-linecap="butt"/>
<line x1="803.00" y1="645.80" x2="885.60" y2="645.80" stroke="#000" stroke-width="2.8" stroke-linecap="butt"/>
<text x="1196.00" y="548.90" font-size="38.5" letter-spacing="0.25"><tspan font-family="'Liberation Serif',serif" font-size="41">β</tspan><tspan dx="0.8">-HB (n=20)</tspan></text>
<text transform="translate(1094.30,720.00) rotate(-90)" text-anchor="middle" font-size="39.2" letter-spacing="0.3"><tspan font-family="'Liberation Serif',serif">β</tspan>-HB (mM)</text>
<line x1="1172.50" y1="594.25" x2="1172.50" y2="853.85" stroke="#000" stroke-width="3.7" stroke-linecap="butt"/>
<line x1="1165.70" y1="852.00" x2="1424.00" y2="852.00" stroke="#000" stroke-width="3.7" stroke-linecap="butt"/>
<line x1="1165.70" y1="596.10" x2="1172.50" y2="596.10" stroke="#000" stroke-width="3.7" stroke-linecap="butt"/>
<text x="1103.70" y="606.30" font-size="38.5">1.5</text>
<line x1="1165.70" y1="681.60" x2="1172.50" y2="681.60" stroke="#000" stroke-width="3.7" stroke-linecap="butt"/>
<text x="1138.41" y="691.20" font-size="38.5">1</text>
<line x1="1165.70" y1="767.00" x2="1172.50" y2="767.00" stroke="#000" stroke-width="3.7" stroke-linecap="butt"/>
<text x="1103.20" y="778.20" font-size="38.5">0.5</text>
<line x1="1165.70" y1="852.00" x2="1172.50" y2="852.00" stroke="#000" stroke-width="3.7" stroke-linecap="butt"/>
<text x="1136.20" y="864.40" font-size="38.5">0</text>
<line x1="1214.40" y1="852.00" x2="1214.40" y2="859.50" stroke="#000" stroke-width="3.7" stroke-linecap="butt"/>
<line x1="1298.40" y1="852.00" x2="1298.40" y2="859.50" stroke="#000" stroke-width="3.7" stroke-linecap="butt"/>
<line x1="1382.30" y1="852.00" x2="1382.30" y2="859.50" stroke="#000" stroke-width="3.7" stroke-linecap="butt"/>
<text x="1197.12" y="906.60" font-size="38.5">B</text>
<text x="1287.25" y="906.60" font-size="38.5">F</text>
<text x="1373.12" y="906.60" font-size="38.5">R</text>
<polyline points="1214.4,729.0 1298.4,670.0 1382.3,733.6" fill="none" stroke="#000" stroke-width="2.4"/>
<polyline points="1214.4,780.8 1298.4,664.4 1382.3,737.4" fill="none" stroke="#000" stroke-width="2.4"/>
<polyline points="1214.4,780.8 1298.4,666.0 1382.3,750.0" fill="none" stroke="#000" stroke-width="2.4"/>
<polyline points="1214.4,787.7 1298.4,664.4 1382.3,783.9" fill="none" stroke="#000" stroke-width="2.4"/>
<polyline points="1214.4,787.7 1298.4,666.0 1382.3,783.9" fill="none" stroke="#000" stroke-width="2.4"/>
<polyline points="1214.4,787.7 1298.4,680.8 1382.3,790.0" fill="none" stroke="#000" stroke-width="2.4"/>
<polyline points="1214.4,803.7 1298.4,680.8 1382.3,790.0" fill="none" stroke="#000" stroke-width="2.4"/>
<polyline points="1214.4,803.7 1298.4,685.7 1382.3,807.5" fill="none" stroke="#000" stroke-width="2.4"/>
<polyline points="1214.4,803.7 1298.4,664.4 1382.3,807.5" fill="none" stroke="#000" stroke-width="2.4"/>
<polyline points="1214.4,803.7 1298.4,666.0 1382.3,807.5" fill="none" stroke="#000" stroke-width="2.4"/>
<polyline points="1214.4,803.7 1298.4,680.8 1382.3,807.5" fill="none" stroke="#000" stroke-width="2.4"/>
<polyline points="1214.4,810.5 1298.4,685.7 1382.3,812.8" fill="none" stroke="#000" stroke-width="2.4"/>
<polyline points="1214.4,787.7 1298.4,719.2 1382.3,783.9" fill="none" stroke="#000" stroke-width="2.4"/>
<polyline points="1214.4,803.7 1298.4,719.2 1382.3,790.0" fill="none" stroke="#000" stroke-width="2.4"/>
<polyline points="1214.4,803.7 1298.4,731.0 1382.3,807.5" fill="none" stroke="#000" stroke-width="2.4"/>
<polyline points="1214.4,810.5 1298.4,731.0 1382.3,807.5" fill="none" stroke="#000" stroke-width="2.4"/>
<polyline points="1214.4,810.5 1298.4,747.3 1382.3,807.5" fill="none" stroke="#000" stroke-width="2.4"/>
<polyline points="1214.4,787.7 1298.4,765.6 1382.3,812.8" fill="none" stroke="#000" stroke-width="2.4"/>
<polyline points="1214.4,810.5 1298.4,765.6 1382.3,812.8" fill="none" stroke="#000" stroke-width="2.4"/>
<polyline points="1214.4,814.3 1298.4,768.7 1382.3,812.8" fill="none" stroke="#000" stroke-width="2.4"/>
<circle cx="1214.4" cy="814.3" r="7.5" fill="#fff" stroke="#000" stroke-width="2.6"/>
<circle cx="1214.4" cy="810.5" r="7.5" fill="#fff" stroke="#000" stroke-width="2.6"/>
<circle cx="1214.4" cy="780.8" r="7.5" fill="#fff" stroke="#000" stroke-width="2.6"/>
<circle cx="1214.4" cy="787.7" r="7.5" fill="#fff" stroke="#000" stroke-width="2.6"/>
<circle cx="1214.4" cy="803.7" r="7.5" fill="#fff" stroke="#000" stroke-width="2.6"/>
<circle cx="1214.4" cy="729.0" r="7.5" fill="#fff" stroke="#000" stroke-width="2.6"/>
<circle cx="1298.4" cy="768.7" r="7.5" fill="#00AA1C" stroke="#000" stroke-width="2.6"/>
<circle cx="1298.4" cy="685.7" r="7.5" fill="#00AA1C" stroke="#000" stroke-width="2.6"/>
<circle cx="1298.4" cy="731.0" r="7.5" fill="#00AA1C" stroke="#000" stroke-width="2.6"/>
<circle cx="1298.4" cy="670.0" r="7.5" fill="#00AA1C" stroke="#000" stroke-width="2.6"/>
<circle cx="1298.4" cy="666.0" r="7.5" fill="#00AA1C" stroke="#000" stroke-width="2.6"/>
<circle cx="1298.4" cy="680.8" r="7.5" fill="#00AA1C" stroke="#000" stroke-width="2.6"/>
<circle cx="1298.4" cy="664.4" r="7.5" fill="#00AA1C" stroke="#000" stroke-width="2.6"/>
<circle cx="1298.4" cy="719.2" r="7.5" fill="#00AA1C" stroke="#000" stroke-width="2.6"/>
<circle cx="1298.4" cy="747.3" r="7.5" fill="#00AA1C" stroke="#000" stroke-width="2.6"/>
<circle cx="1298.4" cy="765.6" r="7.5" fill="#00AA1C" stroke="#000" stroke-width="2.6"/>
<circle cx="1382.3" cy="750.0" r="7.5" fill="#fff" stroke="#000" stroke-width="2.6"/>
<circle cx="1382.3" cy="737.4" r="7.5" fill="#fff" stroke="#000" stroke-width="2.6"/>
<circle cx="1382.3" cy="733.6" r="7.5" fill="#fff" stroke="#000" stroke-width="2.6"/>
<circle cx="1382.3" cy="790.0" r="7.5" fill="#fff" stroke="#000" stroke-width="2.6"/>
<circle cx="1382.3" cy="783.9" r="7.5" fill="#fff" stroke="#000" stroke-width="2.6"/>
<circle cx="1382.3" cy="812.8" r="7.5" fill="#fff" stroke="#000" stroke-width="2.6"/>
<circle cx="1382.3" cy="807.5" r="7.5" fill="#fff" stroke="#000" stroke-width="2.6"/>
<text x="1212.50" y="628.00" font-size="26" letter-spacing="0.65">p&lt;10<tspan font-size="18.6" dy="-6.9" letter-spacing="0">-4</tspan></text>
<text x="1302.00" y="628.00" font-size="26" letter-spacing="0.65">p&lt;10<tspan font-size="18.6" dy="-6.9" letter-spacing="0">-4</tspan></text>
<line x1="1212.80" y1="639.30" x2="1293.20" y2="639.30" stroke="#000" stroke-width="2.8" stroke-linecap="butt"/>
<line x1="1298.90" y1="639.30" x2="1379.00" y2="639.30" stroke="#000" stroke-width="2.8" stroke-linecap="butt"/>
<text x="1735.10" y="545.10" font-size="38.5" letter-spacing="0.25">FFA (n=20)</text>
<text transform="translate(1625.00,723.50) rotate(-90)" text-anchor="middle" font-size="39.2" letter-spacing="0.3">FFA (mM)</text>
<line x1="1724.00" y1="592.05" x2="1724.00" y2="854.35" stroke="#000" stroke-width="3.7" stroke-linecap="butt"/>
<line x1="1717.20" y1="852.50" x2="1977.50" y2="852.50" stroke="#000" stroke-width="3.7" stroke-linecap="butt"/>
<line x1="1717.20" y1="593.90" x2="1724.00" y2="593.90" stroke="#000" stroke-width="3.7" stroke-linecap="butt"/>
<text x="1650.70" y="606.60" font-size="38.5">2.5</text>
<line x1="1717.20" y1="645.20" x2="1724.00" y2="645.20" stroke="#000" stroke-width="3.7" stroke-linecap="butt"/>
<text x="1683.00" y="658.20" font-size="38.5">2</text>
<line x1="1717.20" y1="697.00" x2="1724.00" y2="697.00" stroke="#000" stroke-width="3.7" stroke-linecap="butt"/>
<text x="1650.70" y="710.20" font-size="38.5">1.5</text>
<line x1="1717.20" y1="749.00" x2="1724.00" y2="749.00" stroke="#000" stroke-width="3.7" stroke-linecap="butt"/>
<text x="1685.11" y="762.40" font-size="38.5">1</text>
<line x1="1717.20" y1="800.90" x2="1724.00" y2="800.90" stroke="#000" stroke-width="3.7" stroke-linecap="butt"/>
<text x="1651.00" y="814.30" font-size="38.5">0.5</text>
<line x1="1717.20" y1="852.50" x2="1724.00" y2="852.50" stroke="#000" stroke-width="3.7" stroke-linecap="butt"/>
<text x="1683.00" y="866.40" font-size="38.5">0</text>
<line x1="1765.70" y1="852.50" x2="1765.70" y2="860.00" stroke="#000" stroke-width="3.7" stroke-linecap="butt"/>
<line x1="1850.50" y1="852.50" x2="1850.50" y2="860.00" stroke="#000" stroke-width="3.7" stroke-linecap="butt"/>
<line x1="1935.70" y1="852.50" x2="1935.70" y2="860.00" stroke="#000" stroke-width="3.7" stroke-linecap="butt"/>
<text x="1751.12" y="902.30" font-size="38.5">B</text>
<text x="1842.25" y="902.30" font-size="38.5">F</text>
<text x="1927.12" y="902.30" font-size="38.5">R</text>
<polyline points="1765.7,757.3 1850.5,662.5 1935.7,781.2" fill="none" stroke="#000" stroke-width="2.4"/>
<polyline points="1765.7,757.3 1850.5,730.5 1935.7,792.0" fill="none" stroke="#000" stroke-width="2.4"/>
<polyline points="1765.7,769.4 1850.5,622.1 1935.7,781.2" fill="none" stroke="#000" stroke-width="2.4"/>
<polyline points="1765.7,769.4 1850.5,769.4 1935.7,761.8" fill="none" stroke="#000" stroke-width="2.4"/>
<polyline points="1765.7,769.4 1850.5,669.8 1935.7,802.0" fill="none" stroke="#000" stroke-width="2.4"/>
<polyline points="1765.7,778.5 1850.5,700.0 1935.7,761.8" fill="none" stroke="#000" stroke-width="2.4"/>
<polyline points="1765.7,778.5 1850.5,713.3 1935.7,802.0" fill="none" stroke="#000" stroke-width="2.4"/>
<polyline points="1765.7,778.5 1850.5,678.8 1935.7,817.5" fill="none" stroke="#000" stroke-width="2.4"/>
<polyline points="1765.7,792.0 1850.5,713.3 1935.7,817.5" fill="none" stroke="#000" stroke-width="2.4"/>
<polyline points="1765.7,792.0 1850.5,739.5 1935.7,792.0" fill="none" stroke="#000" stroke-width="2.4"/>
<polyline points="1765.7,792.0 1850.5,751.3 1935.7,802.0" fill="none" stroke="#000" stroke-width="2.4"/>
<polyline points="1765.7,803.9 1850.5,678.8 1935.7,817.5" fill="none" stroke="#000" stroke-width="2.4"/>
<polyline points="1765.7,803.9 1850.5,751.3 1935.7,802.0" fill="none" stroke="#000" stroke-width="2.4"/>
<polyline points="1765.7,803.9 1850.5,700.0 1935.7,825.6" fill="none" stroke="#000" stroke-width="2.4"/>
<polyline points="1765.7,803.9 1850.5,769.4 1935.7,817.5" fill="none" stroke="#000" stroke-width="2.4"/>
<polyline points="1765.7,819.3 1850.5,713.3 1935.7,825.6" fill="none" stroke="#000" stroke-width="2.4"/>
<polyline points="1765.7,819.3 1850.5,769.4 1935.7,802.0" fill="none" stroke="#000" stroke-width="2.4"/>
<polyline points="1765.7,819.3 1850.5,779.4 1935.7,817.5" fill="none" stroke="#000" stroke-width="2.4"/>
<polyline points="1765.7,826.5 1850.5,779.4 1935.7,825.6" fill="none" stroke="#000" stroke-width="2.4"/>
<polyline points="1765.7,826.5 1850.5,782.0 1935.7,825.6" fill="none" stroke="#000" stroke-width="2.4"/>
<circle cx="1765.7" cy="826.5" r="7.5" fill="#fff" stroke="#000" stroke-width="2.6"/>
<circle cx="1765.7" cy="792.0" r="7.5" fill="#fff" stroke="#000" stroke-width="2.6"/>
<circle cx="1765.7" cy="769.4" r="7.5" fill="#fff" stroke="#000" stroke-width="2.6"/>
<circle cx="1765.7" cy="757.3" r="7.5" fill="#fff" stroke="#000" stroke-width="2.6"/>
<circle cx="1765.7" cy="778.5" r="7.5" fill="#fff" stroke="#000" stroke-width="2.6"/>
<circle cx="1765.7" cy="803.9" r="7.5" fill="#fff" stroke="#000" stroke-width="2.6"/>
<circle cx="1765.7" cy="819.3" r="7.5" fill="#fff" stroke="#000" stroke-width="2.6"/>
<circle cx="1850.5" cy="782.0" r="7.5" fill="#00AA1C" stroke="#000" stroke-width="2.6"/>
<circle cx="1850.5" cy="779.4" r="7.5" fill="#00AA1C" stroke="#000" stroke-width="2.6"/>
<circle cx="1850.5" cy="739.5" r="7.5" fill="#00AA1C" stroke="#000" stroke-width="2.6"/>
<circle cx="1850.5" cy="700.0" r="7.5" fill="#00AA1C" stroke="#000" stroke-width="2.6"/>
<circle cx="1850.5" cy="678.8" r="7.5" fill="#00AA1C" stroke="#000" stroke-width="2.6"/>
<circle cx="1850.5" cy="669.8" r="7.5" fill="#00AA1C" stroke="#000" stroke-width="2.6"/>
<circle cx="1850.5" cy="622.1" r="7.5" fill="#00AA1C" stroke="#000" stroke-width="2.6"/>
<circle cx="1850.5" cy="662.5" r="7.5" fill="#00AA1C" stroke="#000" stroke-width="2.6"/>
<circle cx="1850.5" cy="713.3" r="7.5" fill="#00AA1C" stroke="#000" stroke-width="2.6"/>
<circle cx="1850.5" cy="730.5" r="7.5" fill="#00AA1C" stroke="#000" stroke-width="2.6"/>
<circle cx="1850.5" cy="751.3" r="7.5" fill="#00AA1C" stroke="#000" stroke-width="2.6"/>
<circle cx="1850.5" cy="769.4" r="7.5" fill="#00AA1C" stroke="#000" stroke-width="2.6"/>
<circle cx="1935.7" cy="817.5" r="7.5" fill="#fff" stroke="#000" stroke-width="2.6"/>
<circle cx="1935.7" cy="792.0" r="7.5" fill="#fff" stroke="#000" stroke-width="2.6"/>
<circle cx="1935.7" cy="761.8" r="7.5" fill="#fff" stroke="#000" stroke-width="2.6"/>
<circle cx="1935.7" cy="781.2" r="7.5" fill="#fff" stroke="#000" stroke-width="2.6"/>
<circle cx="1935.7" cy="802.0" r="7.5" fill="#fff" stroke="#000" stroke-width="2.6"/>
<circle cx="1935.7" cy="825.6" r="7.5" fill="#fff" stroke="#000" stroke-width="2.6"/>
<text x="1760.00" y="589.80" font-size="26" letter-spacing="0.65">p&lt;10<tspan font-size="18.6" dy="-6.9" letter-spacing="0">-4</tspan></text>
<text x="1858.00" y="589.80" font-size="26" letter-spacing="0.65">p&lt;10<tspan font-size="18.6" dy="-6.9" letter-spacing="0">-4</tspan></text>
<line x1="1759.00" y1="600.40" x2="1846.60" y2="600.40" stroke="#000" stroke-width="2.8" stroke-linecap="butt"/>
<line x1="1853.30" y1="600.40" x2="1940.80" y2="600.40" stroke="#000" stroke-width="2.8" stroke-linecap="butt"/>
<text x="123.50" y="1012.90" font-size="38.5" letter-spacing="0.25">Glucose (n=15)</text>
<text transform="translate(53.50,1182.40) rotate(-90)" text-anchor="middle" font-size="39" letter-spacing="0.1">Glucose (mg/dl)</text>
<line x1="169.00" y1="1062.15" x2="169.00" y2="1322.45" stroke="#000" stroke-width="3.7" stroke-linecap="butt"/>
<line x1="162.20" y1="1320.60" x2="432.50" y2="1320.60" stroke="#000" stroke-width="3.7" stroke-linecap="butt"/>
<line x1="162.20" y1="1064.00" x2="169.00" y2="1064.00" stroke="#000" stroke-width="3.7" stroke-linecap="butt"/>
<text x="81.85" y="1074.50" font-size="38.5">200</text>
<line x1="162.20" y1="1128.00" x2="169.00" y2="1128.00" stroke="#000" stroke-width="3.7" stroke-linecap="butt"/>
<text x="81.95" y="1139.20" font-size="38.5">150</text>
<line x1="162.20" y1="1192.00" x2="169.00" y2="1192.00" stroke="#000" stroke-width="3.7" stroke-linecap="butt"/>
<text x="81.95" y="1203.40" font-size="38.5">100</text>
<line x1="162.20" y1="1256.00" x2="169.00" y2="1256.00" stroke="#000" stroke-width="3.7" stroke-linecap="butt"/>
<text x="103.35" y="1269.00" font-size="38.5">50</text>
<line x1="162.20" y1="1320.60" x2="169.00" y2="1320.60" stroke="#000" stroke-width="3.7" stroke-linecap="butt"/>
<text x="125.50" y="1333.90" font-size="38.5">0</text>
<line x1="243.90" y1="1320.60" x2="243.90" y2="1328.10" stroke="#000" stroke-width="3.7" stroke-linecap="butt"/>
<line x1="357.40" y1="1320.60" x2="357.40" y2="1328.10" stroke="#000" stroke-width="3.7" stroke-linecap="butt"/>
<text x="234.43" y="1375.30" font-size="38.5">B</text>
<text x="345.25" y="1375.30" font-size="38.5">F</text>
<polyline points="243.9,1115.4 357.4,1230.3" fill="none" stroke="#000" stroke-width="2.4"/>
<circle cx="243.9" cy="1115.4" r="7.5" fill="#fff" stroke="#000" stroke-width="2.6"/>
<circle cx="357.4" cy="1230.3" r="7.5" fill="#00AA1C" stroke="#000" stroke-width="2.6"/>
<polyline points="243.9,1117.5 357.4,1231.5" fill="none" stroke="#000" stroke-width="2.4"/>
<polyline points="243.9,1119.5 357.4,1233.0" fill="none" stroke="#000" stroke-width="2.4"/>
<polyline points="243.9,1130.0 357.4,1238.0" fill="none" stroke="#000" stroke-width="2.4"/>
<polyline points="243.9,1132.0 357.4,1240.0" fill="none" stroke="#000" stroke-width="2.4"/>
<polyline points="243.9,1134.0 357.4,1242.0" fill="none" stroke="#000" stroke-width="2.4"/>
<polyline points="243.9,1137.0 357.4,1244.0" fill="none" stroke="#000" stroke-width="2.4"/>
<circle cx="243.9" cy="1137.0" r="7.5" fill="#fff" stroke="#000" stroke-width="2.6"/>
<circle cx="357.4" cy="1244.0" r="7.5" fill="#00AA1C" stroke="#000" stroke-width="2.6"/>
<polyline points="243.9,1139.0 357.4,1246.0" fill="none" stroke="#000" stroke-width="2.4"/>
<polyline points="243.9,1141.0 357.4,1248.0" fill="none" stroke="#000" stroke-width="2.4"/>
<polyline points="243.9,1143.0 357.4,1250.0" fill="none" stroke="#000" stroke-width="2.4"/>
<polyline points="243.9,1146.0 357.4,1252.0" fill="none" stroke="#000" stroke-width="2.4"/>
<polyline points="243.9,1148.0 357.4,1254.0" fill="none" stroke="#000" stroke-width="2.4"/>
<polyline points="243.9,1150.0 357.4,1257.7" fill="none" stroke="#000" stroke-width="2.4"/>
<circle cx="243.9" cy="1150.0" r="7.5" fill="#fff" stroke="#000" stroke-width="2.6"/>
<circle cx="357.4" cy="1257.7" r="7.5" fill="#00AA1C" stroke="#000" stroke-width="2.6"/>
<polyline points="243.9,1162.4 357.4,1252.0" fill="none" stroke="#000" stroke-width="2.4"/>
<circle cx="243.9" cy="1123.3" r="7.5" fill="#fff" stroke="#000" stroke-width="2.6"/>
<circle cx="243.9" cy="1144.2" r="7.5" fill="#fff" stroke="#000" stroke-width="2.6"/>
<circle cx="243.9" cy="1162.4" r="7.5" fill="#fff" stroke="#000" stroke-width="2.6"/>
<circle cx="357.4" cy="1246.6" r="7.5" fill="#00AA1C" stroke="#000" stroke-width="2.6"/>
<text x="263.30" y="1072.00" font-size="26" letter-spacing="0.65">p&lt;10<tspan font-size="18.6" dy="-6.9" letter-spacing="0">-4</tspan></text>
<line x1="238.00" y1="1083.00" x2="360.00" y2="1083.00" stroke="#000" stroke-width="2.8" stroke-linecap="butt"/>
<text x="647.00" y="1015.60" font-size="38.5" letter-spacing="0.25">Insulin (n=15)</text>
<text transform="translate(580.10,1184.50) rotate(-90)" text-anchor="middle" font-size="39.2" letter-spacing="0.3">Insulin (<tspan font-family="'Liberation Serif',serif">μ</tspan>IU/ml)</text>
<line x1="674.60" y1="1063.05" x2="674.60" y2="1321.95" stroke="#000" stroke-width="3.7" stroke-linecap="butt"/>
<line x1="667.80" y1="1320.10" x2="937.00" y2="1320.10" stroke="#000" stroke-width="3.7" stroke-linecap="butt"/>
<line x1="667.80" y1="1064.90" x2="674.60" y2="1064.90" stroke="#000" stroke-width="3.7" stroke-linecap="butt"/>
<text x="593.05" y="1073.90" font-size="38.5">150</text>
<line x1="667.80" y1="1149.60" x2="674.60" y2="1149.60" stroke="#000" stroke-width="3.7" stroke-linecap="butt"/>
<text x="593.05" y="1160.80" font-size="38.5">100</text>
<line x1="667.80" y1="1234.70" x2="674.60" y2="1234.70" stroke="#000" stroke-width="3.7" stroke-linecap="butt"/>
<text x="614.55" y="1247.80" font-size="38.5">50</text>
<line x1="667.80" y1="1320.10" x2="674.60" y2="1320.10" stroke="#000" stroke-width="3.7" stroke-linecap="butt"/>
<text x="636.30" y="1334.60" font-size="38.5">0</text>
<line x1="749.50" y1="1320.10" x2="749.50" y2="1327.60" stroke="#000" stroke-width="3.7" stroke-linecap="butt"/>
<line x1="861.70" y1="1320.10" x2="861.70" y2="1327.60" stroke="#000" stroke-width="3.7" stroke-linecap="butt"/>
<text x="742.83" y="1378.00" font-size="38.5">B</text>
<text x="854.75" y="1378.00" font-size="38.5">F</text>
<polyline points="749.5,1120.3 861.7,1278.0" fill="none" stroke="#000" stroke-width="2.4"/>
<polyline points="749.5,1161.0 861.7,1285.0" fill="none" stroke="#000" stroke-width="2.4"/>
<polyline points="749.5,1168.0 861.7,1291.0" fill="none" stroke="#000" stroke-width="2.4"/>
<polyline points="749.5,1183.0 861.7,1291.0" fill="none" stroke="#000" stroke-width="2.4"/>
<polyline points="749.5,1210.3 861.7,1291.0" fill="none" stroke="#000" stroke-width="2.4"/>
<polyline points="749.5,1210.3 861.7,1258.5" fill="none" stroke="#000" stroke-width="2.4"/>
<polyline points="749.5,1225.3 861.7,1298.5" fill="none" stroke="#000" stroke-width="2.4"/>
<polyline points="749.5,1225.3 861.7,1291.0" fill="none" stroke="#000" stroke-width="2.4"/>
<polyline points="749.5,1238.8 861.7,1298.5" fill="none" stroke="#000" stroke-width="2.4"/>
<polyline points="749.5,1247.5 861.7,1236.8" fill="none" stroke="#000" stroke-width="2.4"/>
<polyline points="749.5,1247.5 861.7,1305.2" fill="none" stroke="#000" stroke-width="2.4"/>
<polyline points="749.5,1260.0 861.7,1298.5" fill="none" stroke="#000" stroke-width="2.4"/>
<polyline points="749.5,1260.0 861.7,1271.8" fill="none" stroke="#000" stroke-width="2.4"/>
<polyline points="749.5,1269.0 861.7,1298.5" fill="none" stroke="#000" stroke-width="2.4"/>
<polyline points="749.5,1280.0 861.7,1291.0" fill="none" stroke="#000" stroke-width="2.4"/>
<polyline points="749.5,1280.0 861.7,1271.8" fill="none" stroke="#000" stroke-width="2.4"/>
<polyline points="749.5,1286.7 861.7,1291.0" fill="none" stroke="#000" stroke-width="2.4"/>
<polyline points="749.5,1238.8 861.7,1280.2" fill="none" stroke="#000" stroke-width="2.4"/>
<polyline points="749.5,1269.0 861.7,1280.2" fill="none" stroke="#000" stroke-width="2.4"/>
<polyline points="749.5,1286.7 861.7,1298.5" fill="none" stroke="#000" stroke-width="2.4"/>
<circle cx="749.5" cy="1161.0" r="7.5" fill="#fff" stroke="#000" stroke-width="2.6"/>
<circle cx="749.5" cy="1238.8" r="7.5" fill="#fff" stroke="#000" stroke-width="2.6"/>
<circle cx="749.5" cy="1260.0" r="7.5" fill="#fff" stroke="#000" stroke-width="2.6"/>
<circle cx="749.5" cy="1280.0" r="7.5" fill="#fff" stroke="#000" stroke-width="2.6"/>
<circle cx="749.5" cy="1120.3" r="7.5" fill="#fff" stroke="#000" stroke-width="2.6"/>
<circle cx="749.5" cy="1168.0" r="7.5" fill="#fff" stroke="#000" stroke-width="2.6"/>
<circle cx="749.5" cy="1183.0" r="7.5" fill="#fff" stroke="#000" stroke-width="2.6"/>
<circle cx="749.5" cy="1210.3" r="7.5" fill="#fff" stroke="#000" stroke-width="2.6"/>
<circle cx="749.5" cy="1225.3" r="7.5" fill="#fff" stroke="#000" stroke-width="2.6"/>
<circle cx="749.5" cy="1247.5" r="7.5" fill="#fff" stroke="#000" stroke-width="2.6"/>
<circle cx="749.5" cy="1269.0" r="7.5" fill="#fff" stroke="#000" stroke-width="2.6"/>
<circle cx="749.5" cy="1286.7" r="7.5" fill="#fff" stroke="#000" stroke-width="2.6"/>
<circle cx="861.7" cy="1305.2" r="7.5" fill="#00AA1C" stroke="#000" stroke-width="2.6"/>
<circle cx="861.7" cy="1298.5" r="7.5" fill="#00AA1C" stroke="#000" stroke-width="2.6"/>
<circle cx="861.7" cy="1280.2" r="7.5" fill="#00AA1C" stroke="#000" stroke-width="2.6"/>
<circle cx="861.7" cy="1258.5" r="7.5" fill="#00AA1C" stroke="#000" stroke-width="2.6"/>
<circle cx="861.7" cy="1236.8" r="7.5" fill="#00AA1C" stroke="#000" stroke-width="2.6"/>
<circle cx="861.7" cy="1271.8" r="7.5" fill="#00AA1C" stroke="#000" stroke-width="2.6"/>
<circle cx="861.7" cy="1291.0" r="7.5" fill="#00AA1C" stroke="#000" stroke-width="2.6"/>
<text x="760.20" y="1083.60" font-size="26" letter-spacing="0.65">p&lt;10<tspan font-size="18.6" dy="-6.9" letter-spacing="0">-4</tspan></text>
<line x1="739.20" y1="1093.30" x2="861.30" y2="1093.30" stroke="#000" stroke-width="2.8" stroke-linecap="butt"/>
<text x="1191.70" y="1014.90" font-size="38.5" letter-spacing="0.25"><tspan font-family="'Liberation Serif',serif" font-size="41">β</tspan><tspan dx="0.8">-HB (n=14)</tspan></text>
<text transform="translate(1099.60,1182.30) rotate(-90)" text-anchor="middle" font-size="39.2" letter-spacing="0.3"><tspan font-family="'Liberation Serif',serif">β</tspan>-HB (mM)</text>
<line x1="1172.50" y1="1058.85" x2="1172.50" y2="1321.65" stroke="#000" stroke-width="3.7" stroke-linecap="butt"/>
<line x1="1165.70" y1="1319.80" x2="1438.00" y2="1319.80" stroke="#000" stroke-width="3.7" stroke-linecap="butt"/>
<line x1="1165.70" y1="1060.70" x2="1172.50" y2="1060.70" stroke="#000" stroke-width="3.7" stroke-linecap="butt"/>
<text x="1131.50" y="1078.90" font-size="38.5">2</text>
<line x1="1165.70" y1="1190.00" x2="1172.50" y2="1190.00" stroke="#000" stroke-width="3.7" stroke-linecap="butt"/>
<text x="1133.11" y="1204.40" font-size="38.5">1</text>
<line x1="1165.70" y1="1319.80" x2="1172.50" y2="1319.80" stroke="#000" stroke-width="3.7" stroke-linecap="butt"/>
<text x="1131.50" y="1331.30" font-size="38.5">0</text>
<line x1="1248.30" y1="1319.80" x2="1248.30" y2="1327.30" stroke="#000" stroke-width="3.7" stroke-linecap="butt"/>
<line x1="1362.40" y1="1319.80" x2="1362.40" y2="1327.30" stroke="#000" stroke-width="3.7" stroke-linecap="butt"/>
<text x="1239.62" y="1379.30" font-size="38.5">B</text>
<text x="1350.25" y="1379.30" font-size="38.5">F</text>
<polyline points="1248.3,1319.8 1362.4,1177.6" fill="none" stroke="#000" stroke-width="2.4"/>
<circle cx="1248.3" cy="1319.8" r="7.5" fill="#fff" stroke="#000" stroke-width="2.6"/>
<circle cx="1362.4" cy="1177.6" r="7.5" fill="#00AA1C" stroke="#000" stroke-width="2.6"/>
<polyline points="1248.3,1319.8 1362.4,1151.5" fill="none" stroke="#000" stroke-width="2.4"/>
<circle cx="1248.3" cy="1319.8" r="7.5" fill="#fff" stroke="#000" stroke-width="2.6"/>
<circle cx="1362.4" cy="1151.5" r="7.5" fill="#00AA1C" stroke="#000" stroke-width="2.6"/>
<polyline points="1248.3,1319.8 1362.4,1139.0" fill="none" stroke="#000" stroke-width="2.4"/>
<circle cx="1248.3" cy="1319.8" r="7.5" fill="#fff" stroke="#000" stroke-width="2.6"/>
<circle cx="1362.4" cy="1139.0" r="7.5" fill="#00AA1C" stroke="#000" stroke-width="2.6"/>
<polyline points="1248.3,1319.8 1362.4,1164.5" fill="none" stroke="#000" stroke-width="2.4"/>
<circle cx="1248.3" cy="1319.8" r="7.5" fill="#fff" stroke="#000" stroke-width="2.6"/>
<circle cx="1362.4" cy="1164.5" r="7.5" fill="#00AA1C" stroke="#000" stroke-width="2.6"/>
<polyline points="1248.3,1319.8 1362.4,1125.5" fill="none" stroke="#000" stroke-width="2.4"/>
<circle cx="1248.3" cy="1319.8" r="7.5" fill="#fff" stroke="#000" stroke-width="2.6"/>
<circle cx="1362.4" cy="1125.5" r="7.5" fill="#00AA1C" stroke="#000" stroke-width="2.6"/>
<polyline points="1248.3,1319.8 1362.4,1099.9" fill="none" stroke="#000" stroke-width="2.4"/>
<circle cx="1248.3" cy="1319.8" r="7.5" fill="#fff" stroke="#000" stroke-width="2.6"/>
<circle cx="1362.4" cy="1099.9" r="7.5" fill="#00AA1C" stroke="#000" stroke-width="2.6"/>
<text x="1264.00" y="1060.00" font-size="26" letter-spacing="0.65">p&lt;10<tspan font-size="18.6" dy="-6.9" letter-spacing="0">-4</tspan></text>
<line x1="1241.00" y1="1068.30" x2="1363.70" y2="1068.30" stroke="#000" stroke-width="2.8" stroke-linecap="butt"/>
<text x="1666.50" y="1014.90" font-size="38.5" letter-spacing="0.25">Body weight (n=26)</text>
<text transform="translate(1632.00,1183.30) rotate(-90)" text-anchor="middle" font-size="39.2" letter-spacing="0.3">Weight (g)</text>
<line x1="1724.10" y1="1061.85" x2="1724.10" y2="1323.55" stroke="#000" stroke-width="3.7" stroke-linecap="butt"/>
<line x1="1717.30" y1="1321.70" x2="1989.70" y2="1321.70" stroke="#000" stroke-width="3.7" stroke-linecap="butt"/>
<line x1="1717.30" y1="1063.70" x2="1724.10" y2="1063.70" stroke="#000" stroke-width="3.7" stroke-linecap="butt"/>
<text x="1664.85" y="1078.10" font-size="38.5">40</text>
<line x1="1717.30" y1="1127.40" x2="1724.10" y2="1127.40" stroke="#000" stroke-width="3.7" stroke-linecap="butt"/>
<text x="1664.85" y="1141.80" font-size="38.5">30</text>
<line x1="1717.30" y1="1192.40" x2="1724.10" y2="1192.40" stroke="#000" stroke-width="3.7" stroke-linecap="butt"/>
<text x="1664.85" y="1207.50" font-size="38.5">20</text>
<line x1="1717.30" y1="1257.40" x2="1724.10" y2="1257.40" stroke="#000" stroke-width="3.7" stroke-linecap="butt"/>
<text x="1664.85" y="1272.40" font-size="38.5">10</text>
<line x1="1717.30" y1="1321.70" x2="1724.10" y2="1321.70" stroke="#000" stroke-width="3.7" stroke-linecap="butt"/>
<text x="1686.40" y="1338.10" font-size="38.5">0</text>
<line x1="1800.00" y1="1321.70" x2="1800.00" y2="1329.20" stroke="#000" stroke-width="3.7" stroke-linecap="butt"/>
<line x1="1914.60" y1="1321.70" x2="1914.60" y2="1329.20" stroke="#000" stroke-width="3.7" stroke-linecap="butt"/>
<text x="1793.92" y="1379.00" font-size="38.5">B</text>
<text x="1905.25" y="1379.00" font-size="38.5">F</text>
<polyline points="1800.0,1096.0 1914.6,1135.5" fill="none" stroke="#000" stroke-width="2.4"/>
<polyline points="1800.0,1094.0 1914.6,1132.8" fill="none" stroke="#000" stroke-width="2.4"/>
<circle cx="1800.0" cy="1094.0" r="7.5" fill="#fff" stroke="#000" stroke-width="2.6"/>
<circle cx="1914.6" cy="1132.8" r="7.5" fill="#00AA1C" stroke="#000" stroke-width="2.6"/>
<polyline points="1800.0,1107.0 1914.6,1142.0" fill="none" stroke="#000" stroke-width="2.4"/>
<polyline points="1800.0,1105.0 1914.6,1139.8" fill="none" stroke="#000" stroke-width="2.4"/>
<circle cx="1800.0" cy="1105.0" r="7.5" fill="#fff" stroke="#000" stroke-width="2.6"/>
<circle cx="1914.6" cy="1139.8" r="7.5" fill="#00AA1C" stroke="#000" stroke-width="2.6"/>
<polyline points="1800.0,1120.0 1914.6,1155.0" fill="none" stroke="#000" stroke-width="2.4"/>
<polyline points="1800.0,1118.0 1914.6,1152.0" fill="none" stroke="#000" stroke-width="2.4"/>
<circle cx="1800.0" cy="1118.0" r="7.5" fill="#fff" stroke="#000" stroke-width="2.6"/>
<circle cx="1914.6" cy="1152.0" r="7.5" fill="#00AA1C" stroke="#000" stroke-width="2.6"/>
<polyline points="1800.0,1124.0 1914.6,1157.0" fill="none" stroke="#000" stroke-width="2.4"/>
<circle cx="1800.0" cy="1124.0" r="7.5" fill="#fff" stroke="#000" stroke-width="2.6"/>
<circle cx="1914.6" cy="1157.0" r="7.5" fill="#00AA1C" stroke="#000" stroke-width="2.6"/>
<polyline points="1800.0,1125.1 1914.6,1158.2" fill="none" stroke="#000" stroke-width="2.4"/>
<polyline points="1800.0,1126.2 1914.6,1159.4" fill="none" stroke="#000" stroke-width="2.4"/>
<polyline points="1800.0,1127.3 1914.6,1160.6" fill="none" stroke="#000" stroke-width="2.4"/>
<polyline points="1800.0,1128.4 1914.6,1161.8" fill="none" stroke="#000" stroke-width="2.4"/>
<polyline points="1800.0,1129.5 1914.6,1163.0" fill="none" stroke="#000" stroke-width="2.4"/>
<polyline points="1800.0,1130.6 1914.6,1164.2" fill="none" stroke="#000" stroke-width="2.4"/>
<polyline points="1800.0,1131.7 1914.6,1165.4" fill="none" stroke="#000" stroke-width="2.4"/>
<polyline points="1800.0,1132.8 1914.6,1166.6" fill="none" stroke="#000" stroke-width="2.4"/>
<polyline points="1800.0,1133.9 1914.6,1167.8" fill="none" stroke="#000" stroke-width="2.4"/>
<polyline points="1800.0,1135.0 1914.6,1169.0" fill="none" stroke="#000" stroke-width="2.4"/>
<polyline points="1800.0,1136.1 1914.6,1170.2" fill="none" stroke="#000" stroke-width="2.4"/>
<polyline points="1800.0,1137.2 1914.6,1171.4" fill="none" stroke="#000" stroke-width="2.4"/>
<polyline points="1800.0,1138.3 1914.6,1172.6" fill="none" stroke="#000" stroke-width="2.4"/>
<polyline points="1800.0,1139.4 1914.6,1173.8" fill="none" stroke="#000" stroke-width="2.4"/>
<polyline points="1800.0,1140.5 1914.6,1175.0" fill="none" stroke="#000" stroke-width="2.4"/>
<circle cx="1800.0" cy="1140.5" r="7.5" fill="#fff" stroke="#000" stroke-width="2.6"/>
<circle cx="1914.6" cy="1175.0" r="7.5" fill="#00AA1C" stroke="#000" stroke-width="2.6"/>
<polyline points="1800.0,1146.0 1914.6,1176.0" fill="none" stroke="#000" stroke-width="2.4"/>
<polyline points="1800.0,1148.0 1914.6,1179.0" fill="none" stroke="#000" stroke-width="2.4"/>
<polyline points="1800.0,1149.6 1914.6,1181.5" fill="none" stroke="#000" stroke-width="2.4"/>
<circle cx="1800.0" cy="1149.6" r="7.5" fill="#fff" stroke="#000" stroke-width="2.6"/>
<circle cx="1914.6" cy="1181.5" r="7.5" fill="#00AA1C" stroke="#000" stroke-width="2.6"/>
<circle cx="1800.0" cy="1094.0" r="7.5" fill="#fff" stroke="#000" stroke-width="2.6"/>
<circle cx="1800.0" cy="1132.2" r="7.5" fill="#fff" stroke="#000" stroke-width="2.6"/>
<circle cx="1914.6" cy="1132.8" r="7.5" fill="#00AA1C" stroke="#000" stroke-width="2.6"/>
<circle cx="1914.6" cy="1167.6" r="7.5" fill="#00AA1C" stroke="#000" stroke-width="2.6"/>
<text x="1816.70" y="1066.10" font-size="26" letter-spacing="0.65">p&lt;10<tspan font-size="18.6" dy="-6.9" letter-spacing="0">-4</tspan></text>
<line x1="1794.20" y1="1074.80" x2="1916.00" y2="1074.80" stroke="#000" stroke-width="2.8" stroke-linecap="butt"/>
</svg>
</body>
</html>
